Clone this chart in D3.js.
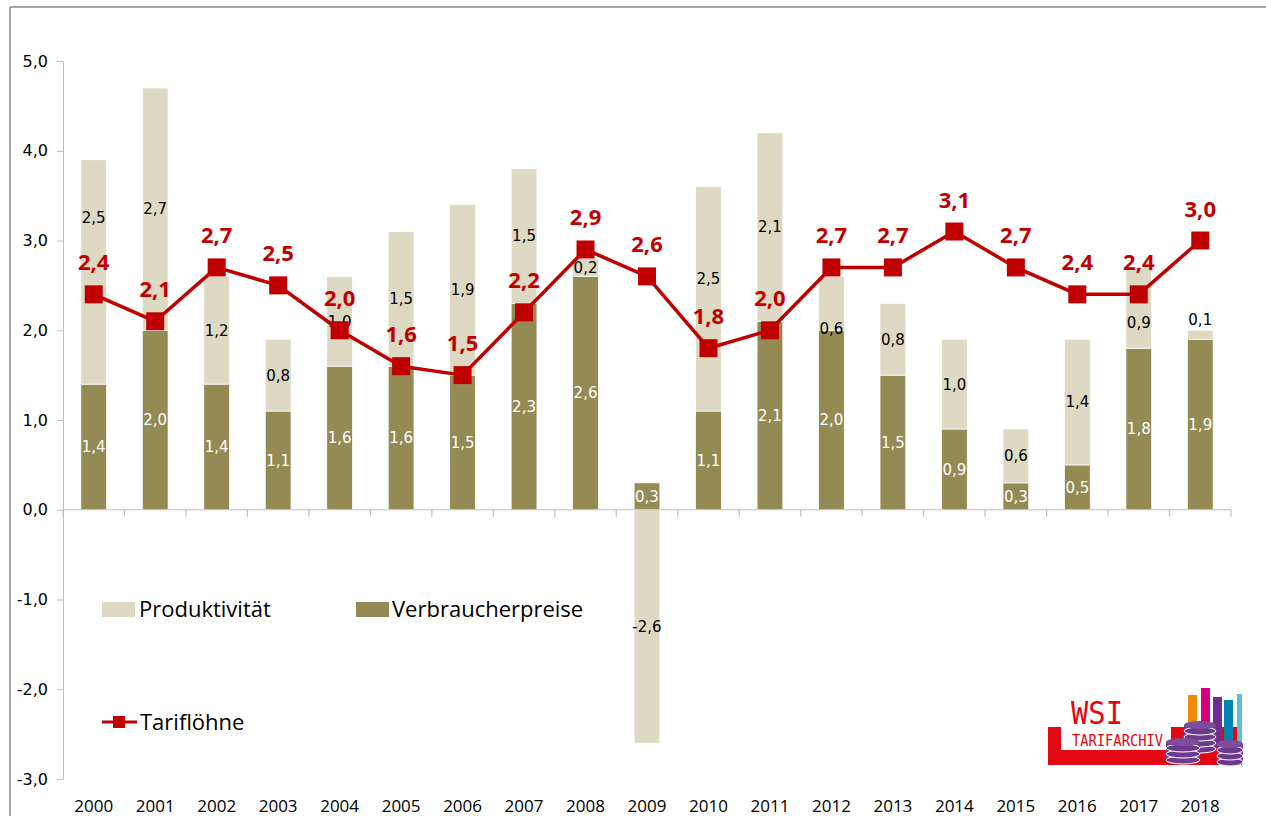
<!DOCTYPE html>
<html>
<head>
<meta charset="utf-8">
<script src="https://cdn.jsdelivr.net/npm/d3@7"></script>
<style>
html, body { margin: 0; padding: 0; background: #fff; }
#graph { width: 1266px; height: 816px; }
</style>
</head>
<body>
<div id="graph"></div>
<script>
// data
var years = ["2000","2001","2002","2003","2004","2005","2006","2007","2008","2009",
	"2010","2011","2012","2013","2014","2015","2016","2017","2018"]
var verbraucherpreise = [1.4, 2.0, 1.4, 1.1, 1.6, 1.6, 1.5, 2.3, 2.6, 0.3,
	1.1, 2.1, 2.0, 1.5, 0.9, 0.3, 0.5, 1.8, 1.9]
var produktivitaet = [2.5, 2.7, 1.2, 0.8, 1.0, 1.5, 1.9, 1.5, 0.2, -2.6,
	2.5, 2.1, 0.6, 0.8, 1.0, 0.6, 1.4, 0.9, 0.1]
var tarifloehne = [2.4, 2.1, 2.7, 2.5, 2.0, 1.6, 1.5, 2.2, 2.9, 2.6,
	1.8, 2.0, 2.7, 2.7, 3.1, 2.7, 2.4, 2.4, 3.0]
var yTicks = [-3, -2, -1, 0, 1, 2, 3, 4, 5]

var colProd = "#ddd9c3"
var colVerb = "#948a54"
var colLine = "#c00000"
var colAxis = "#bfbfbf"
var sans = "'Open Sans', Lato, sans-serif"
var dejavu = "'DejaVu Sans', Verdana, sans-serif"

// a few labels were moved by hand in the original (in value units)
var labelNudge = { "2000": 0.6, "2010": 0.22, "2012": -0.28, "2017": -0.16, "2018": 0.17 }

var de = d3.formatLocale({ decimal: ",", thousands: ".", grouping: [3], currency: ["", " €"], minus: "-" })
var fmt = de.format(".1f")

var width = 1266, height = 816
var svg = d3.select("#graph").append("svg").attr("width", width).attr("height", height)
	.style("font-family", sans)

// frame of the chart area
svg.append("line").attr("x1", 10).attr("x2", width).attr("y1", 7).attr("y2", 7)
	.attr("stroke", "#a6a6a6").attr("stroke-width", 2)
svg.append("line").attr("x1", 10).attr("x2", 10).attr("y1", 7).attr("y2", height)
	.attr("stroke", "#a6a6a6").attr("stroke-width", 2)

var x = d3.scaleBand().domain(years).range([63, 1231]).paddingInner(0.58).paddingOuter(0.29)
var xb = d3.scaleBand().domain(years).range([63, 1231])
var y = d3.scaleLinear().domain([-3, 5]).range([779, 61])

var rows = years.map(function(yr, i) {
	return { year: yr, verb: verbraucherpreise[i], prod: produktivitaet[i] }
})
var series = d3.stack().keys(["verb", "prod"]).offset(d3.stackOffsetDiverging)(rows)

// y axis
var yAxis = svg.append("g").attr("transform", "translate(63,0)")
	.call(d3.axisLeft(y).tickValues(yTicks).tickFormat(fmt).tickSize(6).tickPadding(9))
yAxis.select(".domain").attr("stroke", colAxis)
yAxis.selectAll(".tick line").attr("stroke", colAxis)
yAxis.selectAll("text").style("font-family", dejavu).style("font-size", "16px").attr("fill", "#000")

// bars
var colors = { verb: colVerb, prod: colProd }
svg.append("g").selectAll("g").data(series).enter().append("g")
	.attr("fill", function(s) { return colors[s.key] })
	.selectAll("rect").data(function(s) { return s }).enter().append("rect")
	.attr("x", function(d) { return x(d.data.year) })
	.attr("width", x.bandwidth())
	.attr("y", function(d) { return y(Math.max(d[0], d[1])) })
	.attr("height", function(d) { return Math.abs(y(d[0]) - y(d[1])) })
	.attr("stroke", "#fff").attr("stroke-width", 0.8)

// x axis at zero
var xAxis = svg.append("g").attr("transform", "translate(0," + y(0) + ")")
xAxis.append("line").attr("x1", 63).attr("x2", 1231).attr("stroke", colAxis).attr("stroke-width", 1.2)
xAxis.selectAll("line.t").data(years.concat(["end"])).enter().append("line").attr("class", "t")
	.attr("x1", function(d, i) { return i < years.length ? xb(d) : 1231 })
	.attr("x2", function(d, i) { return i < years.length ? xb(d) : 1231 })
	.attr("y1", 0).attr("y2", 7).attr("stroke", colAxis).attr("stroke-width", 1.2)

// year labels at the bottom
svg.append("g").selectAll("text").data(years).enter().append("text")
	.attr("x", function(d) { return xb(d) + xb.bandwidth() / 2 })
	.attr("y", 812).attr("text-anchor", "middle").style("font-size", "17px").attr("fill", "#000")
	.text(function(d) { return d })

// bar labels
series.forEach(function(s) {
	svg.append("g").selectAll("text").data(s).enter().append("text")
		.attr("x", function(d) { return x(d.data.year) + x.bandwidth() / 2 })
		.attr("y", function(d) {
			var mid = (d[0] + d[1]) / 2
			if (s.key == "prod" && labelNudge[d.data.year]) mid += labelNudge[d.data.year]
			return y(mid)
		})
		.attr("dy", "0.36em").attr("text-anchor", "middle")
		.style("font-family", dejavu).style("font-size", "15px")
		.attr("fill", s.key == "verb" ? "#fff" : "#000")
		.text(function(d) { return fmt(d.data[s.key]) })
})

// Tariflöhne line
var cx = function(i) { return xb(years[i]) + xb.bandwidth() / 2 }
var line = d3.line().x(function(d, i) { return cx(i) }).y(function(d) { return y(d) })
svg.append("path").datum(tarifloehne).attr("d", line)
	.attr("fill", "none").attr("stroke", colLine).attr("stroke-width", 3.5).attr("stroke-linejoin", "round")
svg.append("g").selectAll("rect").data(tarifloehne).enter().append("rect")
	.attr("x", function(d, i) { return cx(i) - 9 }).attr("y", function(d) { return y(d) - 9 })
	.attr("width", 18).attr("height", 18).attr("fill", colLine)
svg.append("g").selectAll("text").data(tarifloehne).enter().append("text")
	.attr("x", function(d, i) { return cx(i) }).attr("y", function(d) { return y(d) - 24 })
	.attr("text-anchor", "middle").style("font-size", "22px").style("font-weight", "bold")
	.attr("fill", colLine).text(fmt)

// legend
var legend = svg.append("g").style("font-size", "22px")
legend.append("rect").attr("x", 102).attr("y", 602).attr("width", 33).attr("height", 15).attr("fill", colProd)
legend.append("text").attr("x", 139).attr("y", 617).text("Produktivität")
legend.append("rect").attr("x", 356).attr("y", 602).attr("width", 33).attr("height", 15).attr("fill", colVerb)
legend.append("text").attr("x", 392).attr("y", 617).text("Verbraucherpreise")
legend.append("line").attr("x1", 102).attr("x2", 137).attr("y1", 722).attr("y2", 722)
	.attr("stroke", colLine).attr("stroke-width", 3)
legend.append("rect").attr("x", 113).attr("y", 716).attr("width", 12).attr("height", 12).attr("fill", colLine)
legend.append("text").attr("x", 140).attr("y", 730).text("Tariflöhne")

// WSI Tarifarchiv logo
var logo = svg.append("g")
logo.append("rect").attr("x", 1048).attr("y", 727).attr("width", 194).attr("height", 38).attr("fill", "#e30613")
logo.append("rect").attr("x", 1061).attr("y", 727).attr("width", 110).attr("height", 23).attr("fill", "#fff")
logo.append("text").attr("x", 1071).attr("y", 724).style("font-family", "'DejaVu Sans Mono', monospace")
	.style("font-size", "32px").attr("fill", "#e30613").attr("textLength", 52).attr("lengthAdjust", "spacingAndGlyphs").text("WSI")
logo.append("text").attr("x", 1072).attr("y", 746).style("font-family", "'DejaVu Sans Mono', monospace")
	.style("font-size", "15px").attr("fill", "#e30613").attr("textLength", 91).attr("lengthAdjust", "spacingAndGlyphs").text("TARIFARCHIV")
var logoBars = [[1188, 695, 9, "#f18a00"], [1201, 688, 9, "#d6007e"], [1213, 697, 9, "#6f2c91"],
	[1224, 700, 9, "#0083b3"], [1237, 694, 5, "#5bc0d0"]]
logoBars.forEach(function(b) {
	logo.append("rect").attr("x", b[0]).attr("y", b[1]).attr("width", b[2]).attr("height", 747 - b[1]).attr("fill", b[3])
})
function coinStack(cxp, top, n, rx) {
	for (var k = n - 1; k >= 0; k--) {
		var cy = top + k * 6
		logo.append("rect").attr("x", cxp - rx).attr("y", cy).attr("width", rx * 2).attr("height", 6).attr("fill", "#6b3a8c")
		logo.append("ellipse").attr("cx", cxp).attr("cy", cy + 6).attr("rx", rx).attr("ry", 4)
			.attr("fill", "#6b3a8c").attr("stroke", "#fff").attr("stroke-width", 1)
		logo.append("ellipse").attr("cx", cxp).attr("cy", cy).attr("rx", rx).attr("ry", 4).attr("fill", "#7d4c9c")
	}
}
coinStack(1230, 744, 3, 13)
coinStack(1200, 725, 4, 16)
coinStack(1183, 742, 3, 17)
</script>
</body>
</html>
